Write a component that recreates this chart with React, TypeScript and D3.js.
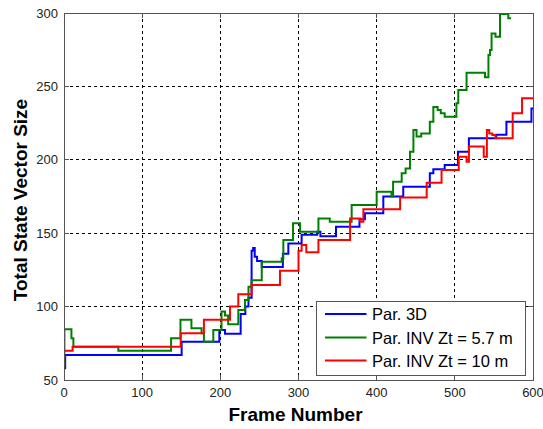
import React from 'react';
import * as d3 from 'd3';

type Pt = [number, number];

const xTicks = [0, 100, 200, 300, 400, 500, 600];
const yTicks = [50, 100, 150, 200, 250, 300];
const seriesNames = ['Par. 3D', 'Par. INV Zt = 5.7 m', 'Par. INV Zt = 10 m'];
const seriesColors = ['#0000ff', '#008000', '#ff0000'];

// [frame, total state vector size] — step values
const par3D: Pt[] = [
  [0, 58], [1.5, 67], [150.5, 76], [198.7, 84], [206, 81.5], [226, 95], [232, 100],
  [236, 106], [240, 138], [242, 140], [244, 134], [247, 131], [253, 127], [280, 136],
  [287, 143], [304, 149], [324, 151], [328, 148], [348, 154.4], [378, 159.5],
  [385, 163.6], [408.5, 175], [434, 181.7], [468, 190.8], [472.5, 193.5], [487, 196.5],
  [504, 205.5], [518, 214.6], [553, 217], [566, 226], [598, 235], [600, 235],
];

const parInv57: Pt[] = [
  [0, 70], [0.5, 84.5], [9.5, 78.4], [12, 72.7], [69.5, 70], [137, 78.4], [149, 91],
  [163, 85.2], [176, 81.8], [179, 76], [191, 84], [201.5, 96.6], [206, 94], [210, 88],
  [223, 97.7], [231.5, 104.5], [236, 113.6], [240, 118], [253, 130.6], [278.5, 133],
  [280.6, 145.4], [293, 156.7], [302, 151], [325.5, 160], [340, 157.8], [368, 169.2],
  [400, 178.3], [419, 175], [421, 185], [432, 190.8], [437, 194], [442.6, 205.5],
  [447, 220.3], [451, 215.8], [457, 218], [468, 226], [472.5, 236], [478, 234],
  [482, 231.7], [487, 229.4], [502, 238.5], [504.4, 247.5], [515, 259.3],
  [538.6, 256.2], [543, 271.4], [545, 274.8], [547, 286], [552, 283.9],
  [557.8, 299.3], [568.4, 296.4], [572, 296.4],
];

const parInv10: Pt[] = [
  [0, 60], [0.5, 70], [11, 72.7], [149.3, 81.8], [179, 91], [212.4, 100], [223, 108.4],
  [240, 114.7], [276.3, 124.5], [300, 138], [304, 142], [310, 137], [325.5, 145.4],
  [366, 160], [379, 157.8], [383, 166.3], [430, 174.3], [464, 184.4], [483, 193],
  [505, 202], [515, 198.7], [518, 209], [537, 202], [541, 220.3], [544, 218],
  [548, 216.9], [552, 214.6], [574, 231.7], [586, 241.9], [600, 241.9],
];

const allSeries = [par3D, parInv57, parInv10];

export default function App() {
  const W = 543;
  const H = 429;
  const L = 64, T = 13, R = 533, B = 380;
  const x = d3.scaleLinear().domain([0, 600]).range([L, R]);
  const y = d3.scaleLinear().domain([50, 300]).range([B, T]);
  const line = d3
    .line<Pt>()
    .x((d) => x(d[0]))
    .y((d) => y(d[1]))
    .curve(d3.curveStepAfter);

  const axisColor = '#555';
  const font = 'Arial, "Liberation Sans", Helvetica, sans-serif';
  const tickLen = 5;

  const legX = 316.5, legY = 301.5, legW = 209, legH = 73.5;
  const rowY = [314, 337.5, 360.5];

  return (
    <svg
      width={W}
      height={H}
      viewBox={`0 0 ${W} ${H}`}
      style={{ position: 'absolute', left: 0, top: 0, background: '#fff' }}
      fontFamily={font}
    >
      <rect x={0} y={0} width={W} height={H} fill="#fff" />
      <defs>
        <clipPath id="plotClip">
          <rect x={L} y={T - 1} width={R - L} height={B - T + 1} />
        </clipPath>
      </defs>
      {/* grid */}
      <g stroke="#000" strokeWidth={1} strokeDasharray="3,3" shapeRendering="crispEdges">
        {xTicks.slice(1, -1).map((t) => (
          <line key={'gx' + t} x1={x(t)} x2={x(t)} y1={T} y2={B} />
        ))}
        {yTicks.slice(1, -1).map((t) => (
          <line key={'gy' + t} x1={L} x2={R} y1={y(t)} y2={y(t)} />
        ))}
      </g>
      {/* data */}
      <g clipPath="url(#plotClip)" fill="none" strokeWidth={2} strokeLinejoin="miter">
        {allSeries.map((s, i) => (
          <path key={'s' + i} d={line(s) || ''} stroke={seriesColors[i]} />
        ))}
      </g>
      {/* axes box and ticks */}
      <g stroke={axisColor} strokeWidth={1} shapeRendering="crispEdges" fill="none">
        <rect x={L} y={T} width={R - L} height={B - T} />
        {xTicks.map((t) => (
          <g key={'tx' + t}>
            <line x1={x(t)} x2={x(t)} y1={B} y2={B - tickLen} />
            <line x1={x(t)} x2={x(t)} y1={T} y2={T + tickLen} />
          </g>
        ))}
        {yTicks.map((t) => (
          <g key={'ty' + t}>
            <line x1={L} x2={L + tickLen} y1={y(t)} y2={y(t)} />
            <line x1={R} x2={R - tickLen} y1={y(t)} y2={y(t)} />
          </g>
        ))}
      </g>
      {/* tick labels */}
      <g fontSize={13} fill="#222">
        {xTicks.map((t) => (
          <text key={'lx' + t} x={x(t)} y={397} textAnchor="middle">
            {t}
          </text>
        ))}
        {yTicks.map((t) => (
          <text key={'ly' + t} x={58} y={y(t) + 4.5} textAnchor="end">
            {t}
          </text>
        ))}
      </g>
      {/* axis titles */}
      <text x={(L + R) / 2 - 3} y={421} textAnchor="middle" fontSize={19} fontWeight="bold" fill="#000">
        Frame Number
      </text>
      <text
        transform={`translate(27,${200}) rotate(-90)`}
        textAnchor="middle"
        fontSize={19}
        fontWeight="bold"
        fill="#000"
      >
        Total State Vector Size
      </text>
      {/* legend */}
      <rect x={legX} y={legY} width={legW} height={legH} fill="#fff" stroke={axisColor} strokeWidth={1} shapeRendering="crispEdges" />
      {seriesNames.map((n, i) => (
        <g key={'lg' + i}>
          <line x1={325} x2={366.5} y1={rowY[i]} y2={rowY[i]} stroke={seriesColors[i]} strokeWidth={2} />
          <text x={372} y={rowY[i] + 6} fontSize={16.5} fill="#000">
            {n}
          </text>
        </g>
      ))}
    </svg>
  );
}
